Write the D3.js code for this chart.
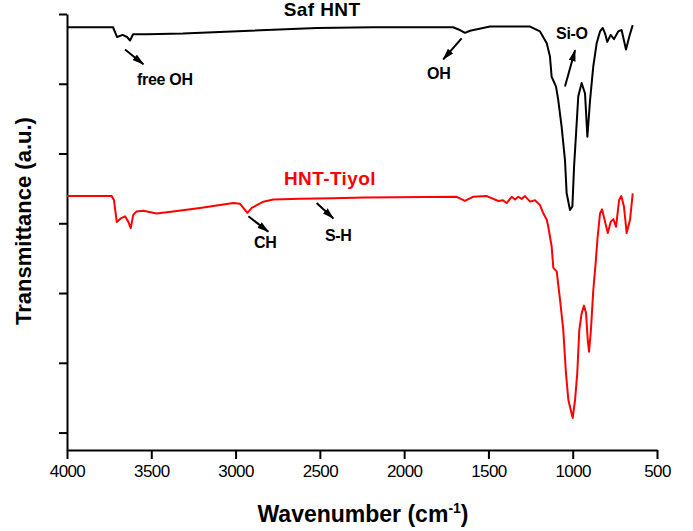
<!DOCTYPE html>
<html>
<head>
<meta charset="utf-8">
<script src="https://cdn.jsdelivr.net/npm/d3@7"></script>
<style>
  body { margin: 0; background: #fff; }
  svg { display: block; }
  text { font-family: Arial, "Liberation Sans", sans-serif; }
</style>
</head>
<body>
<svg id="chart" width="693" height="531"></svg>
<script>
// FTIR spectra, wavenumber (cm-1) vs transmittance (a.u.)
var safWavenumber = [4000,3727,3715,3703,3670,3644,3626,3608,3525,3312,2914,2517,2185,1710,1669,1639,1609,1532,1491,1431,
    1253,1194,1154,1135,1125,1099,1086,1066,1046,1036,1016,1002,992,980,967,947,927,913,897,878,
    858,838,822,808,795,775,755,730,710,684,664,644];
var safTransmittance = [58.1,58.1,57.4,56.7,57.0,56.7,56.2,57.1,57.1,57.2,57.6,58.0,58.1,58.1,57.7,57.3,57.6,58.0,58.2,58.2,
    58.2,57.5,55.8,53.9,51.0,49.6,47.7,43.9,39.1,34.3,31.9,32.4,38.1,42.9,48.2,50.1,48.6,42.4,47.7,52.5,
    55.8,57.5,58.0,57.2,56.0,57.0,56.4,57.5,57.7,54.9,56.8,58.4];

var tiyolWavenumber = [4000,3735,3721,3705,3681,3656,3636,3622,3607,3587,3547,3468,3371,3211,3013,2974,2954,2930,2904,2835,
    2776,2618,2422,2232,1688,1639,1592,1510,1441,1414,1392,1362,1342,1323,1303,1283,1253,1224,1194,1174,
    1154,1145,1125,1115,1095,1075,1056,1040,1026,1000,986,973,961,947,933,921,911,903,892,878,
    864,852,838,826,808,792,775,759,743,725,712,696,680,660,644];
var tiyolTransmittance = [33.9,33.9,33.3,30.2,30.7,31.0,30.2,29.3,31.2,31.7,31.8,31.4,31.7,32.2,32.9,32.8,32.2,31.5,32.2,33.1,
    33.4,33.5,33.6,33.7,33.8,33.2,33.8,33.9,33.2,33.3,32.9,33.8,33.4,33.8,33.5,33.9,33.1,33.3,32.6,31.4,
    30.5,29.5,26.7,23.6,23.1,19.0,14.7,8.5,4.7,2.1,4.7,8.5,14.7,17.1,18.2,17.1,13.3,11.6,14.7,20.4,
    24.3,28.1,31.4,32.0,30.2,28.6,30.2,30.6,29.5,33.3,33.9,32.4,28.6,30.5,34.3];

var xMajorTicks = [4000,3500,3000,2500,2000,1500,1000,500];
var xMinorTicks = [3750,3250,2750,2250,1750,1250,750];
var yMajorTicks = [0,10,20,30,40,50,60];
var yMinorTicks = [5,15,25,35,45,55];

// series names and peak labels: [text, wavenumber, transmittance]
var seriesNames = ["Saf HNT", "HNT-Tiyol"];
var seriesColors = ["#000000", "#ff0000"];
var seriesLabelPos = [[2487, 59.7], [2440, 35.5]];
var peakLabels = [["free OH", 3585, 49.8], ["OH", 1864, 50.7], ["Si-O", 1099, 56.4], ["CH", 2891, 26.5], ["S-H", 2470, 27.5]];
// arrows: [from wn, from T, to wn, to T]
var peakArrows = [[3656, 54.9, 3547, 52.8], [1659, 56.5, 1768, 53.5], [1046, 49.6, 986, 54.8], [2924, 31.0, 2806, 28.8], [2519, 32.9, 2420, 30.7]];

var svg = d3.select("#chart");
var margin_left = 67, margin_top = 14, plot_w = 590, plot_h = 436;

var x = d3.scaleLinear().domain([4000, 500]).range([margin_left, margin_left + plot_w]);
var y = d3.scaleLinear().domain([-2.5, 60]).range([margin_top + plot_h, margin_top]);

// Axes
var xAxisG = svg.append("g").attr("transform", "translate(0," + (margin_top + plot_h) + ")");
xAxisG.call(d3.axisBottom(x).tickValues(xMinorTicks).tickSize(5).tickFormat(""));
xAxisG.call(d3.axisBottom(x).tickValues(xMajorTicks).tickSize(9).tickSizeOuter(0).tickFormat(d3.format("d")));

var yAxisG = svg.append("g").attr("transform", "translate(" + margin_left + ",0)");
yAxisG.call(d3.axisLeft(y).tickValues(yMinorTicks).tickSize(5).tickFormat(""));
yAxisG.call(d3.axisLeft(y).tickValues(yMajorTicks).tickSize(8).tickSizeOuter(0).tickFormat(""));

svg.selectAll(".domain").attr("stroke", "#000").attr("stroke-width", 2);
svg.selectAll(".tick line").attr("stroke", "#000").attr("stroke-width", 2);
xAxisG.selectAll(".tick text")
    .attr("font-size", 17)
    .attr("letter-spacing", "-0.6px")
    .attr("font-family", "Arial, 'Liberation Sans', sans-serif")
    .attr("fill", "#000")
    .attr("dy", "0.9em");

// Axis titles
svg.append("text")
    .attr("transform", "translate(31," + 221 + ") rotate(-90)")
    .attr("text-anchor", "middle")
    .attr("font-size", 22)
    .attr("font-weight", "bold")
    .text("Transmittance (a.u.)");

var xt = svg.append("text")
    .attr("x", 363)
    .attr("y", 522)
    .attr("text-anchor", "middle")
    .attr("font-size", 23)
    .attr("font-weight", "bold");
xt.append("tspan").text("Wavenumber (cm");
xt.append("tspan").attr("font-size", 14).attr("dy", -9).text("-1");
xt.append("tspan").attr("dy", 9).text(")");

// Spectra
var line = d3.line().x(function(d){ return x(d[0]); }).y(function(d){ return y(d[1]); });
var series = [d3.zip(safWavenumber, safTransmittance), d3.zip(tiyolWavenumber, tiyolTransmittance)];

svg.selectAll("path.spec")
    .data(series)
    .enter()
    .append("path")
    .attr("class", "spec")
    .attr("d", line)
    .attr("fill", "none")
    .attr("stroke", function(d, i){ return seriesColors[i]; })
    .attr("stroke-width", 2)
    .attr("stroke-linejoin", "round");

// Series names
svg.selectAll("text.sname")
    .data(seriesNames)
    .enter()
    .append("text")
    .attr("class", "sname")
    .attr("x", function(d, i){ return x(seriesLabelPos[i][0]); })
    .attr("y", function(d, i){ return y(seriesLabelPos[i][1]); })
    .attr("text-anchor", "middle")
    .attr("font-size", 19)
    .attr("font-weight", "bold")
    .attr("letter-spacing", "0.4px")
    .attr("fill", function(d, i){ return seriesColors[i]; })
    .text(function(d){ return d; });

// Peak labels
svg.selectAll("text.peak")
    .data(peakLabels)
    .enter()
    .append("text")
    .attr("class", "peak")
    .attr("x", function(d){ return x(d[1]); })
    .attr("y", function(d){ return y(d[2]); })
    .attr("font-size", 16)
    .attr("font-weight", "bold")
    .attr("letter-spacing", "-0.3px")
    .text(function(d){ return d[0]; });

// Arrows
svg.append("defs").append("marker")
    .attr("id", "head")
    .attr("viewBox", "0 0 12 7")
    .attr("refX", 11)
    .attr("refY", 3.5)
    .attr("markerWidth", 12)
    .attr("markerHeight", 7)
    .attr("markerUnits", "userSpaceOnUse")
    .attr("orient", "auto")
    .append("path")
    .attr("d", "M0,0 L12,3.5 L0,7 Z")
    .attr("fill", "#000");

svg.selectAll("line.arrow")
    .data(peakArrows)
    .enter()
    .append("line")
    .attr("class", "arrow")
    .attr("x1", function(d){ return x(d[0]); })
    .attr("y1", function(d){ return y(d[1]); })
    .attr("x2", function(d){ return x(d[2]); })
    .attr("y2", function(d){ return y(d[3]); })
    .attr("stroke", "#000")
    .attr("stroke-width", 2)
    .attr("marker-end", "url(#head)");
</script>
</body>
</html>
